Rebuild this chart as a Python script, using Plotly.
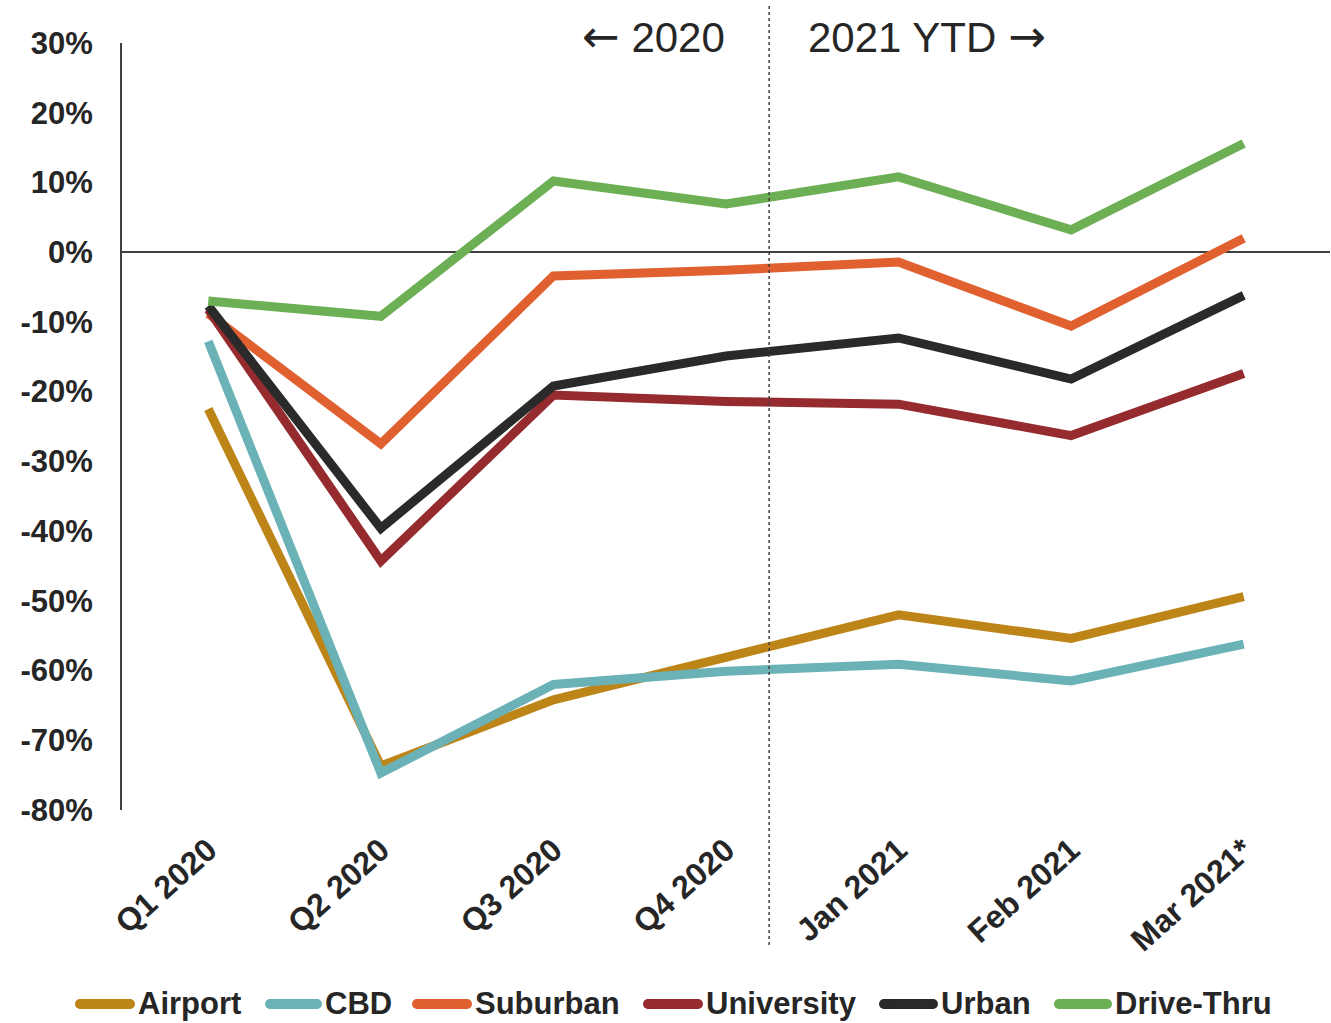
import plotly.graph_objects as go

categories = ["Q1 2020", "Q2 2020", "Q3 2020", "Q4 2020", "Jan 2021", "Feb 2021", "Mar 2021*"]

airport = [-22.5, -73.7, -64.2, -58.2, -52.0, -55.4, -49.4]
cbd = [-12.8, -74.7, -62.0, -60.1, -59.1, -61.5, -56.2]
suburban = [-8.8, -27.5, -3.4, -2.6, -1.4, -10.6, 2.0]
university = [-8.2, -44.3, -20.5, -21.4, -21.8, -26.3, -17.4]
urban = [-7.7, -39.6, -19.2, -14.9, -12.3, -18.2, -6.2]
drive_thru = [-7.0, -9.2, 10.2, 6.9, 10.8, 3.2, 15.6]

series_names = ["Airport", "CBD", "Suburban", "University", "Urban", "Drive-Thru"]
series_values = [airport, cbd, suburban, university, urban, drive_thru]
series_colors = ["#BD8418", "#6BB2B6", "#E0602F", "#952B2E", "#2A2A2A", "#6CAF55"]

y_ticks = [30, 20, 10, 0, -10, -20, -30, -40, -50, -60, -70, -80]
y_tick_text = [f"{v}%" for v in y_ticks]

FONT = "Liberation Sans, Arial, sans-serif"
TXT = "#262626"

W, H = 1331, 1023
ML, MR, MT, MB = 122, 1, 43, 213
PW, PH = W - ML - MR, H - MT - MB


def px_to_paper_x(px):
    return (px - ML) / PW


def px_to_paper_y(py):
    return (H - MB - py) / PH


fig = go.Figure()
for name, vals, col in zip(series_names, series_values, series_colors):
    fig.add_trace(go.Scatter(
        x=categories, y=vals, name=name, mode="lines",
        line=dict(color=col, width=9),
        showlegend=False,
    ))

fig.update_layout(
    width=W, height=H,
    margin=dict(l=ML, r=MR, t=MT, b=MB),
    paper_bgcolor="white", plot_bgcolor="white",
    font=dict(family=FONT, color=TXT),
    showlegend=False,
    xaxis=dict(
        type="category", range=[-0.5, 6.5], showgrid=False, showline=False,
        zeroline=False, ticks="", tickangle=-42, ticklabelstandoff=14,
        tickfont=dict(family=FONT, size=32, color=TXT, weight="bold"),
    ),
    yaxis=dict(
        range=[-80, 30], tickvals=y_ticks, ticktext=y_tick_text, showgrid=False,
        showline=True, linecolor="#404040", linewidth=2,
        zeroline=True, zerolinecolor="#404040", zerolinewidth=2,
        ticks="", ticklabelstandoff=21,
        tickfont=dict(family=FONT, size=31, color=TXT, weight="bold"),
    ),
)

# divider between 2020 and 2021
fig.add_shape(type="line", xref="x", yref="paper", x0=3.25, x1=3.25,
              y0=px_to_paper_y(945), y1=px_to_paper_y(5),
              line=dict(color="#404040", width=1.5, dash="dot"))

ARROW = "<span style='font-family:DejaVu Sans;font-size:45px'>{}</span>"
fig.add_annotation(x=px_to_paper_x(727), y=px_to_paper_y(37), xref="paper", yref="paper",
                   xanchor="right", yanchor="middle",
                   text=ARROW.format("\u2190") + " 2020", showarrow=False,
                   font=dict(family=FONT, size=42, color=TXT))
fig.add_annotation(x=px_to_paper_x(806), y=px_to_paper_y(37), xref="paper", yref="paper",
                   xanchor="left", yanchor="middle",
                   text="2021 YTD " + ARROW.format("\u2192"), showarrow=False,
                   font=dict(family=FONT, size=42, color=TXT))

# legend (line swatch + bold label), laid out like the original
legend_line_px = [(75, 135), (265, 322), (412, 472), (643, 703), (879, 938), (1054, 1112)]
legend_y = px_to_paper_y(1004)
for name, col, (x0, x1) in zip(series_names, series_colors, legend_line_px):
    fig.add_shape(type="line", xref="paper", yref="paper",
                  x0=px_to_paper_x(x0 + 4), x1=px_to_paper_x(x1 - 4), y0=legend_y, y1=legend_y,
                  line=dict(color=col, width=10))
    fig.add_shape(type="circle", xref="paper", yref="paper", fillcolor=col, line=dict(width=0),
                  x0=px_to_paper_x(x0), x1=px_to_paper_x(x0 + 10),
                  y0=px_to_paper_y(1009), y1=px_to_paper_y(999))
    fig.add_shape(type="circle", xref="paper", yref="paper", fillcolor=col, line=dict(width=0),
                  x0=px_to_paper_x(x1 - 10), x1=px_to_paper_x(x1),
                  y0=px_to_paper_y(1009), y1=px_to_paper_y(999))
    fig.add_annotation(x=px_to_paper_x(x1 + 1), y=legend_y, xref="paper", yref="paper",
                       xanchor="left", yanchor="middle", text=name, showarrow=False,
                       font=dict(family=FONT, size=31, color=TXT, weight="bold"))

fig.write_html("out.html")
